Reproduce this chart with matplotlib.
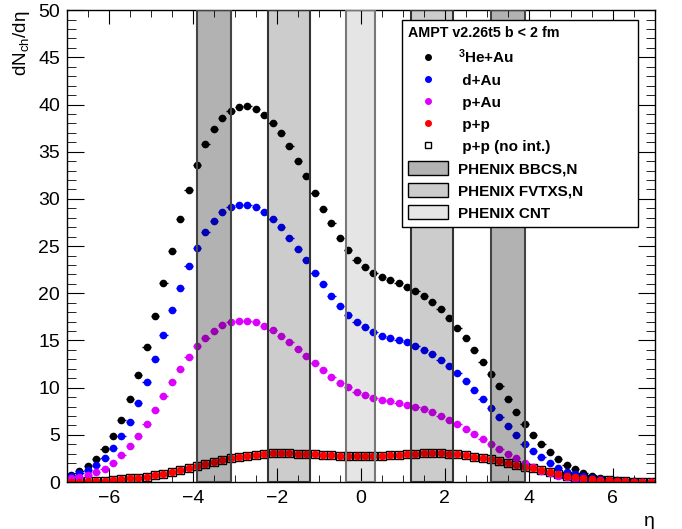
import matplotlib
matplotlib.use('Agg')
import matplotlib.pyplot as plt
from matplotlib.lines import Line2D
from matplotlib.patches import Patch
from matplotlib.ticker import MultipleLocator
import numpy as np

plt.rcParams['font.family'] = ['Liberation Sans', 'DejaVu Sans']
plt.rcParams['mathtext.default'] = 'regular'

# 70 eta bins of width 0.2 between -7 and 7
eta = np.round(np.arange(-6.9, 7.0, 0.2), 2)
half_width = 0.1

he3au = [0.74, 1.2, 1.69, 2.43, 3.46, 4.83, 6.56, 8.78, 11.3, 14.3,
         17.6, 21.1, 24.5, 27.9, 30.9, 33.6, 35.8, 37.4, 38.55, 39.3,
         39.7, 39.8, 39.5, 38.9, 38.05, 36.95, 35.6, 34.0, 32.4, 30.65,
         28.96, 27.4, 25.9, 24.6, 23.5, 22.8, 22.15, 21.7, 21.4, 21.05,
         20.67, 20.25, 19.7, 19.1, 18.3, 17.4, 16.37, 15.27, 14.04, 12.77,
         11.46, 10.15, 8.75, 7.42, 6.2, 5.0, 3.99, 3.14, 2.4, 1.8,
         1.34, 0.93, 0.63, 0.42, 0.25, 0.18, 0.11, 0.07, 0.04, 0.04]
dau = [0.6, 1.0, 1.3, 1.8, 2.54, 3.56, 4.87, 6.4, 8.36, 10.6,
       13.0, 15.6, 18.2, 20.6, 22.9, 24.8, 26.5, 27.7, 28.6, 29.1,
       29.35, 29.35, 29.1, 28.6, 27.9, 27.0, 25.9, 24.7, 23.5, 22.2,
       20.95, 19.75, 18.66, 17.7, 16.96, 16.4, 15.9, 15.5, 15.3, 15.05,
       14.8, 14.4, 14.0, 13.55, 12.95, 12.3, 11.53, 10.69, 9.77, 8.8,
       7.83, 6.87, 5.91, 4.94, 4.05, 3.31, 2.61, 2.04, 1.52, 1.09,
       0.85, 0.63, 0.42, 0.28, 0.18, 0.12, 0.08, 0.05, 0.03, 0.02]
pau = [0.4, 0.55, 0.75, 1.02, 1.38, 2.04, 2.82, 3.77, 4.87, 6.14,
       7.58, 9.07, 10.55, 12.0, 13.3, 14.4, 15.3, 16.05, 16.6, 16.93,
       17.1, 17.1, 16.93, 16.55, 16.1, 15.5, 14.8, 14.07, 13.33, 12.6,
       11.85, 11.14, 10.5, 10.02, 9.52, 9.2, 8.92, 8.68, 8.54, 8.36,
       8.15, 7.9, 7.69, 7.37, 7.02, 6.6, 6.17, 5.64, 5.08, 4.58,
       4.05, 3.53, 3.02, 2.52, 1.97, 1.55, 1.2, 0.92, 0.68, 0.48,
       0.33, 0.22, 0.15, 0.1, 0.06, 0.04, 0.03, 0.02, 0.01, 0.01]
pp = [0.03, 0.05, 0.07, 0.1, 0.15, 0.22, 0.29, 0.39, 0.46, 0.56,
      0.72, 0.9, 1.05, 1.25, 1.45, 1.72, 1.94, 2.15, 2.29, 2.5,
      2.68, 2.79, 2.89, 2.96, 3.03, 3.05, 3.03, 3.0, 2.96, 2.93,
      2.9, 2.85, 2.8, 2.77, 2.75, 2.75, 2.77, 2.8, 2.85, 2.9,
      2.95, 3.0, 3.03, 3.05, 3.03, 3.0, 2.93, 2.82, 2.68, 2.54,
      2.4, 2.22, 2.03, 1.85, 1.64, 1.45, 1.23, 1.06, 0.85, 0.67,
      0.53, 0.42, 0.33, 0.26, 0.18, 0.13, 0.08, 0.05, 0.04, 0.03]
pp_noint = [0.03, 0.05, 0.07, 0.1, 0.15, 0.22, 0.29, 0.39, 0.46, 0.56,
            0.72, 0.9, 1.05, 1.25, 1.45, 1.72, 1.94, 2.15, 2.29, 2.5,
            2.68, 2.79, 2.89, 2.96, 3.03, 3.05, 3.03, 3.0, 2.96, 2.93,
            2.9, 2.85, 2.8, 2.77, 2.75, 2.75, 2.77, 2.8, 2.85, 2.9,
            2.95, 3.0, 3.03, 3.05, 3.03, 3.0, 2.93, 2.82, 2.68, 2.54,
            2.4, 2.22, 2.03, 1.85, 1.64, 1.45, 1.23, 1.06, 0.85, 0.67,
            0.53, 0.42, 0.33, 0.26, 0.18, 0.13, 0.08, 0.05, 0.04, 0.03]

# PHENIX detector acceptances in eta
bbc = [(-3.9, -3.1), (3.1, 3.9)]
fvtx = [(-2.2, -1.2), (1.2, 2.2)]
cnt = [(-0.35, 0.35)]

fig = plt.figure(figsize=(6.82, 5.29), dpi=100)
ax = fig.add_axes([0.098, 0.0888, 0.862, 0.892])

# no-interaction p+p as open squares, under the others
ax.errorbar(eta, pp_noint, xerr=half_width, fmt='s', ms=5.5, mfc='none',
            mec='black', mew=1.0, color='black', elinewidth=1, zorder=2)

series = [(he3au, 'black'), (dau, '#0000ff'), (pau, '#dd00ff'), (pp, '#ff0000')]
for vals, col in series:
    ax.errorbar(eta, vals, xerr=half_width, fmt='o', ms=4.5, color=col,
                mec=col, elinewidth=1, capsize=0, zorder=2)

# acceptance bands drawn semi-transparent on top of the points
for lo, hi in bbc:
    ax.axvspan(lo, hi, facecolor=(0, 0, 0, 0.30), edgecolor='#444444', lw=1.5, zorder=3)
for lo, hi in fvtx:
    ax.axvspan(lo, hi, facecolor=(0, 0, 0, 0.20), edgecolor='#333333', lw=1.5, zorder=3)
for lo, hi in cnt:
    ax.axvspan(lo, hi, facecolor=(0, 0, 0, 0.10), edgecolor='#777777', lw=1.5, zorder=3)

ax.set_xlim(-7, 7)
ax.set_ylim(0, 50)
ax.xaxis.set_major_locator(MultipleLocator(2))
ax.xaxis.set_minor_locator(MultipleLocator(0.5))
ax.yaxis.set_major_locator(MultipleLocator(5))
ax.yaxis.set_minor_locator(MultipleLocator(1))
ax.tick_params(which='both', direction='in', top=True, right=True, labelsize=14)
ax.tick_params(axis='y', which='major', length=12.5, pad=5)
ax.tick_params(axis='y', which='minor', length=6.3)
ax.tick_params(axis='x', which='major', length=10, pad=6)
ax.tick_params(axis='x', which='minor', length=5)
for sp in ax.spines.values():
    sp.set_linewidth(1.0)

ax.set_xlabel('η', fontsize=14, loc='right')
ax.set_ylabel('dN$_{ch}$/dη', fontsize=13.5, loc='top')

handles = [
    Line2D([], [], marker='o', ls='none', color='black', ms=4),
    Line2D([], [], marker='o', ls='none', color='#0000ff', ms=4),
    Line2D([], [], marker='o', ls='none', color='#dd00ff', ms=4),
    Line2D([], [], marker='o', ls='none', color='#ff0000', ms=4),
    Line2D([], [], marker='s', ls='none', mfc='white', mec='black', ms=5),
    Patch(facecolor='#b3b3b3', edgecolor='black', lw=1),
    Patch(facecolor='#cccccc', edgecolor='black', lw=1),
    Patch(facecolor='#e6e6e6', edgecolor='black', lw=1),
]
labels = ['$^{3}$He+Au', ' d+Au', ' p+Au', ' p+p', ' p+p (no int.)',
          'PHENIX BBCS,N', 'PHENIX FVTXS,N', 'PHENIX CNT']
leg = ax.legend(handles, labels, title='AMPT v2.26t5 b < 2 fm',
                loc='upper left', bbox_to_anchor=(0.570, 0.538, 0.401, 0.441),
                mode='expand', borderaxespad=0, alignment='left',
                prop={'weight': 'bold', 'size': 11},
                title_fontproperties={'weight': 'bold', 'size': 10.3},
                handlelength=2.62, handleheight=1.03, handletextpad=0.65,
                labelspacing=0.45, borderpad=0.42, fancybox=False,
                framealpha=1, edgecolor='black')
leg.get_frame().set_linewidth(1.0)
leg.set_zorder(5)

fig.savefig('out.png', dpi=100)
